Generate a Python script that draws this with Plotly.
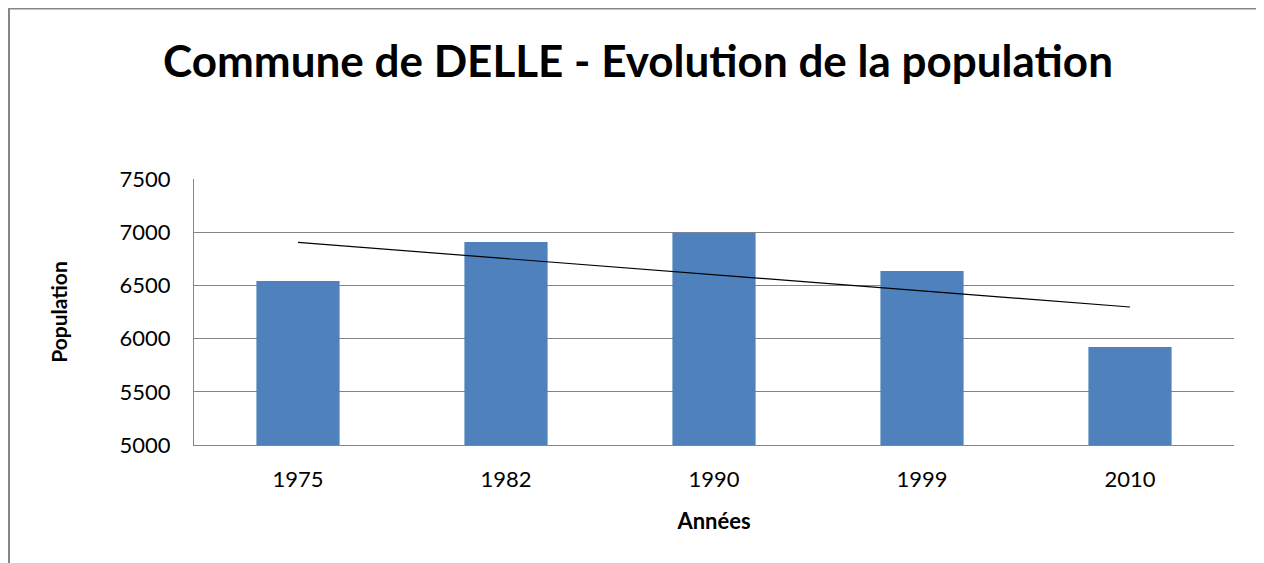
import numpy as np
import plotly.graph_objects as go

years = ["1975", "1982", "1990", "1999", "2010"]
population = [6542, 6909, 6995, 6636, 5920]
y_ticks = [5000, 5500, 6000, 6500, 7000, 7500]

title_text = "Commune de DELLE - Evolution de la population"
x_title = "Années"
y_title = "Population"

# Linear trendline (least squares on category index, as in spreadsheet trendlines)
idx = np.arange(1, len(years) + 1)
slope, intercept = np.polyfit(idx, population, 1)
trend = slope * idx + intercept

FONT = "Lato"

fig = go.Figure()
fig.add_trace(go.Bar(
    x=years, y=population,
    marker=dict(color="#4F81BD", line=dict(width=0)),
    width=0.4,
    showlegend=False,
))
fig.add_trace(go.Scatter(
    x=years, y=trend, mode="lines",
    line=dict(color="#000000", width=1.2),
    showlegend=False,
))

# page body has an 8px margin, so figure coords = screen coords - 8
OFF = 8
W, H = 1264 - OFF, 563 - OFF
L, T = 194 - OFF, 179 - OFF
R = W - (1234 - OFF)
B = H - (445 - OFF)
pw, ph = W - L - R, H - T - B

def px_to_paper_x(px):
    return (px - OFF - L) / pw

def px_to_paper_y(py):
    return (H - B - (py - OFF)) / ph

fig.add_shape(
    type="rect", xref="paper", yref="paper",
    x0=px_to_paper_x(9), x1=px_to_paper_x(1262.5),
    y0=px_to_paper_y(620), y1=px_to_paper_y(8.5),
    line=dict(color="#868686", width=2), fillcolor="rgba(0,0,0,0)",
    layer="below",
)

fig.update_layout(
    width=W, height=H,
    margin=dict(l=L, r=R, t=T, b=B),
    paper_bgcolor="white", plot_bgcolor="white",
    font=dict(family=FONT, color="#000000"),
    title=dict(
        text=f"<b>{title_text}</b>",
        font=dict(family=FONT, size=44, color="#000000"),
        xref="container", yref="container",
        x=(638 - OFF) / W, y=1 - (62 - OFF) / H, xanchor="center", yanchor="middle",
    ),
    xaxis=dict(
        showline=True, linecolor="#868686", linewidth=1,
        showgrid=False, ticks="", tickfont=dict(size=22, color="#000000"),
        ticklabelstandoff=15,
        title=dict(text=f"<b>{x_title}</b>", font=dict(size=22), standoff=22),
    ),
    yaxis=dict(
        range=[5000, 7500], tickvals=y_ticks,
        showline=True, linecolor="#868686", linewidth=1,
        showgrid=True, gridcolor="#868686", gridwidth=1,
        zeroline=False, ticks="", tickfont=dict(size=22, color="#000000"),
        ticklabelstandoff=18,
        title=dict(text=f"<b>{y_title}</b>", font=dict(size=21), standoff=46),
    ),
)

fig.write_html("out.html")
